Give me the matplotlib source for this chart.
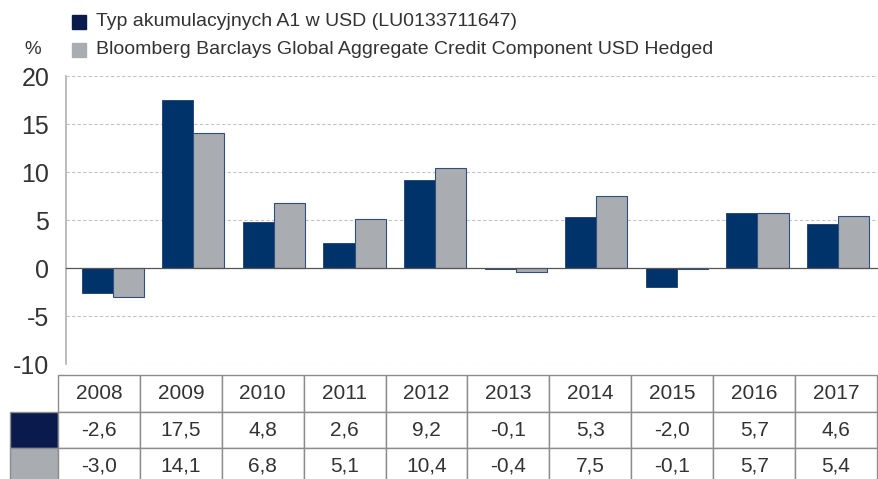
import numpy as np
import matplotlib
matplotlib.use("Agg")
import matplotlib.pyplot as plt
from matplotlib.patches import Rectangle

years = ["2008", "2009", "2010", "2011", "2012", "2013", "2014", "2015", "2016", "2017"]
fund = [-2.6, 17.5, 4.8, 2.6, 9.2, -0.1, 5.3, -2.0, 5.7, 4.6]
bench = [-3.0, 14.1, 6.8, 5.1, 10.4, -0.4, 7.5, -0.1, 5.7, 5.4]
fund_label = "Typ akumulacyjnych A1 w USD (LU0133711647)"
bench_label = "Bloomberg Barclays Global Aggregate Credit Component USD Hedged"

DARK = "#003369"
DARK_SW = "#0b1a4c"
GREY = "#a9adb1"
TXT = "#333333"
W, H = 879, 479

plt.rcParams["font.family"] = ["Liberation Sans", "DejaVu Sans"]

fig = plt.figure(figsize=(W / 100, H / 100), dpi=100)

# --- bar chart ---
ax = fig.add_axes([66 / W, 1 - 364 / H, (880 - 66) / W, (364 - 76) / H])
x = np.arange(len(years))
bw = 0.385
ax.bar(x - bw / 2, fund, bw, color=DARK, edgecolor="#1e3c6c", lw=0.6, zorder=3)
ax.bar(x + bw / 2, bench, bw, color=GREY, edgecolor="#2f4f7f", lw=0.8, zorder=3)
ax.set_xlim(-0.58, 9.52)
ax.set_ylim(-10, 20)
ax.set_yticks([-10, -5, 0, 5, 10, 15, 20])
ax.set_yticklabels(["-10", "-5", "0", "5", "10", "15", "20"], fontsize=18, color=TXT)
ax.set_xticks([])
ax.tick_params(axis="y", length=0, pad=12)
for v in [-10, -5, 5, 10, 15, 20]:
    ax.axhline(v, color="#c4c4c4", lw=0.8, ls=(0, (3, 2)), zorder=1)
ax.axhline(0, color="#555555", lw=0.9, zorder=4)
for s in ["top", "right", "bottom"]:
    ax.spines[s].set_visible(False)
ax.spines["left"].set_color("#b0b0b0")
ax.spines["left"].set_linewidth(1.2)

# --- legend and unit ---
for i, (lab, col) in enumerate([(fund_label, DARK_SW), (bench_label, GREY)]):
    yc = 22 + i * 28
    fig.patches.append(Rectangle((72 / W, 1 - (yc + 7) / H), 14 / W, 14 / H,
                                 transform=fig.transFigure, color=col))
    fig.text(96 / W, 1 - yc / H, lab, fontsize=14, color=TXT, va="center", ha="left")
fig.text(24 / W, 1 - 50 / H, "%", fontsize=13.5, color=TXT, va="center", ha="left")

# --- data table ---
tx0, ttop, first_w, col_w, row_h = 10, 375, 48, 81.9, 36.5
tab = fig.add_axes([0, 0, 1, 1])
tab.set_xlim(0, W)
tab.set_ylim(H, 0)
tab.axis("off")
rows = [years, [f"{v:.1f}".replace(".", ",") for v in fund],
        [f"{v:.1f}".replace(".", ",") for v in bench]]
for r, vals in enumerate(rows):
    y0 = ttop + r * row_h
    if r > 0:
        sw = DARK_SW if r == 1 else GREY
        tab.add_patch(Rectangle((tx0, y0), first_w, row_h, facecolor=sw,
                                edgecolor="#8c8c8c", lw=1.0))
    for c, t in enumerate(vals):
        cx = tx0 + first_w + c * col_w
        tab.add_patch(Rectangle((cx, y0), col_w, row_h, facecolor="white",
                                edgecolor="#8c8c8c", lw=1.0))
        tab.text(cx + col_w / 2, y0 + row_h / 2, t, fontsize=15, color=TXT,
                 ha="center", va="center")

fig.savefig("out.png", dpi=100)
